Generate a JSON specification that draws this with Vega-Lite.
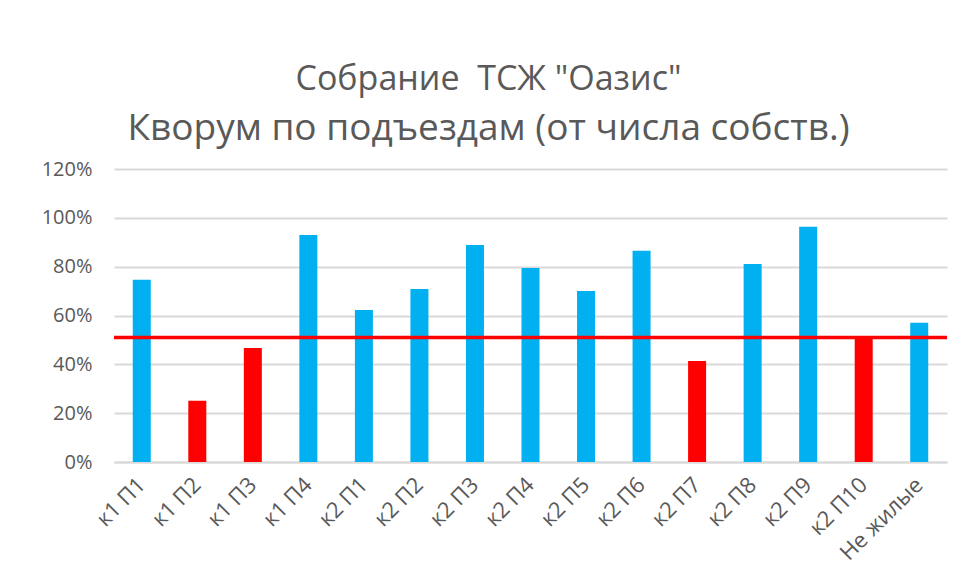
{
  "$schema": "https://vega.github.io/schema/vega-lite/v6.json",
  "width": 833,
  "height": 293,
  "autosize": "none",
  "padding": {"left": 114, "top": 169, "right": 15, "bottom": 120},
  "background": "white",
  "config": {"view": {"stroke": null}, "font": "Open Sans"},
  "title": {
    "text": "Собрание \u00a0ТСЖ \"Оазис\"",
    "subtitle": "Кворум по подъездам (от числа собств.)",
    "anchor": "middle",
    "frame": "group",
    "dx": -42,
    "fontSize": 34,
    "fontWeight": "normal",
    "color": "#595959",
    "subtitleFontSize": 37,
    "subtitleColor": "#595959",
    "subtitlePadding": 14,
    "offset": 12
  },
  "data": {
    "values": [
      {"k": "к1 П1", "v": 0.746},
      {"k": "к1 П2", "v": 0.251},
      {"k": "к1 П3", "v": 0.467},
      {"k": "к1 П4", "v": 0.93},
      {"k": "к2 П1", "v": 0.623},
      {"k": "к2 П2", "v": 0.709},
      {"k": "к2 П3", "v": 0.889},
      {"k": "к2 П4", "v": 0.795},
      {"k": "к2 П5", "v": 0.70},
      {"k": "к2 П6", "v": 0.865},
      {"k": "к2 П7", "v": 0.414},
      {"k": "к2 П8", "v": 0.811},
      {"k": "к2 П9", "v": 0.963},
      {"k": "к2 П10", "v": 0.508},
      {"k": "Не жилые", "v": 0.57}
    ]
  },
  "layer": [
    {
      "mark": {"type": "bar", "size": 18},
      "encoding": {
        "x": {
          "field": "k",
          "type": "nominal",
          "sort": null,
          "title": null,
          "axis": {
            "labelAngle": -45,
            "labelAlign": "right",
            "labelBaseline": "middle",
            "labelFontSize": 22,
            "labelColor": "#595959",
            "labelPadding": 19,
            "labelOverlap": false,
            "ticks": false,
            "domainColor": "#D9D9D9",
            "domainWidth": 2
          }
        },
        "y": {
          "field": "v",
          "type": "quantitative",
          "scale": {"domain": [0, 1.2]},
          "title": null,
          "axis": {
            "format": ".0%",
            "values": [0, 0.2, 0.4, 0.6, 0.8, 1.0, 1.2],
            "labelOverlap": false,
            "labelFontSize": 20,
            "labelColor": "#595959",
            "labelPadding": 22,
            "ticks": false,
            "domain": false,
            "gridColor": "#D9D9D9",
            "gridWidth": 2
          }
        },
        "color": {
          "condition": {"test": "datum.v < 0.51", "value": "#FF0000"},
          "value": "#00B0F0"
        }
      }
    },
    {
      "data": {"values": [{"threshold": 0.51}]},
      "mark": {"type": "rule", "color": "#FF0000", "strokeWidth": 3.5},
      "encoding": {
        "y": {"field": "threshold", "type": "quantitative"}
      }
    }
  ]
}
